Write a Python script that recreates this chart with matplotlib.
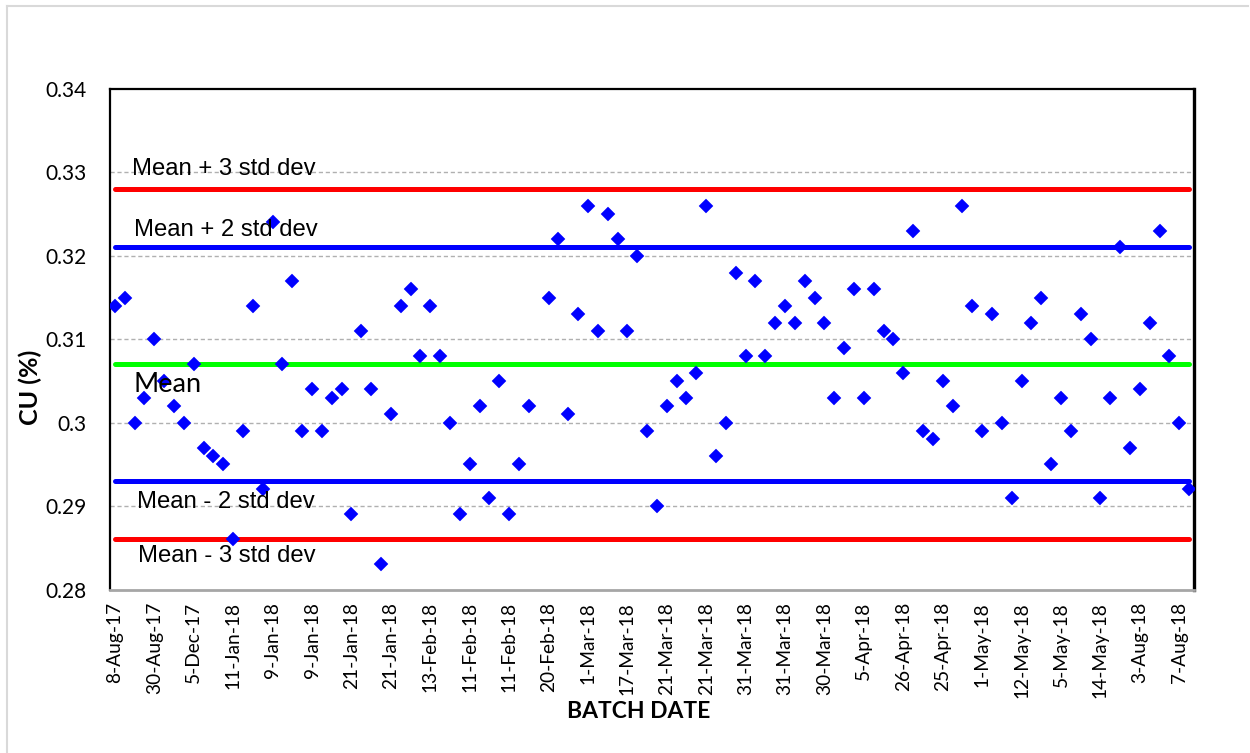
import numpy as np
import matplotlib
matplotlib.use("Agg")
import matplotlib.pyplot as plt
from matplotlib.lines import Line2D

# ---- data ----
cu_values = [
    0.314, 0.315, 0.300, 0.303, 0.310, 0.305, 0.302, 0.300, 0.307, 0.297,
    0.296, 0.295, 0.286, 0.299, 0.314, 0.292, 0.324, 0.307, 0.317, 0.299,
    0.304, 0.299, 0.303, 0.304, 0.289, 0.311, 0.304, 0.283, 0.301, 0.314,
    0.316, 0.308, 0.314, 0.308, 0.300, 0.289, 0.295, 0.302, 0.291, 0.305,
    0.289, 0.295, 0.302, np.nan, 0.315, 0.322, 0.301, 0.313, 0.326, 0.311,
    0.325, 0.322, 0.311, 0.320, 0.299, 0.290, 0.302, 0.305, 0.303, 0.306,
    0.326, 0.296, 0.300, 0.318, 0.308, 0.317, 0.308, 0.312, 0.314, 0.312,
    0.317, 0.315, 0.312, 0.303, 0.309, 0.316, 0.303, 0.316, 0.311, 0.310,
    0.306, 0.323, 0.299, 0.298, 0.305, 0.302, 0.326, 0.314, 0.299, 0.313,
    0.300, 0.291, 0.305, 0.312, 0.315, 0.295, 0.303, 0.299, 0.313, 0.310,
    0.291, 0.303, 0.321, 0.297, 0.304, 0.312, 0.323, 0.308, 0.300, 0.292,
]
tick_labels = [
    "8-Aug-17", "30-Aug-17", "5-Dec-17", "11-Jan-18", "9-Jan-18", "9-Jan-18",
    "21-Jan-18", "21-Jan-18", "13-Feb-18", "11-Feb-18", "11-Feb-18", "20-Feb-18",
    "1-Mar-18", "17-Mar-18", "21-Mar-18", "21-Mar-18", "31-Mar-18", "31-Mar-18",
    "30-Mar-18", "5-Apr-18", "26-Apr-18", "25-Apr-18", "1-May-18", "12-May-18",
    "5-May-18", "14-May-18", "3-Aug-18", "7-Aug-18",
]
tick_step = 4
mean_val = 0.307
plus2 = 0.321
plus3 = 0.328
minus2 = 0.293
minus3 = 0.286
limit_names = ["Mean + 3 std dev", "Mean + 2 std dev", "Mean", "Mean - 2 std dev", "Mean - 3 std dev"]

W, H = 1250, 753
fig = plt.figure(figsize=(W / 100, H / 100), dpi=100)
fig.patch.set_facecolor("white")

# outer chart border
fig.add_artist(Line2D([7 / W, 7 / W], [0, 1 - 6 / H], transform=fig.transFigure, color="#d9d9d9", lw=1.5))
fig.add_artist(Line2D([7 / W, 1248 / W], [1 - 6 / H, 1 - 6 / H], transform=fig.transFigure, color="#d9d9d9", lw=1.5))

left, right, top, bottom = 110, 1194, 89, 589.5
ax = fig.add_axes([left / W, 1 - bottom / H, (right - left) / W, (bottom - top) / H])

n = len(cu_values)
x = np.arange(n)

ax.set_ylim(0.28, 0.34)
ax.set_xlim(-0.5, n - 0.5)
yt = [0.28, 0.29, 0.30, 0.31, 0.32, 0.33, 0.34]
ax.set_yticks(yt)
ax.set_yticklabels(["0.28", "0.29", "0.3", "0.31", "0.32", "0.33", "0.34"])
for yv in yt[1:-1]:
    ax.axhline(yv, color="#b0b0b0", lw=1.0, ls=(0, (3, 2)), zorder=1)

line_kw = dict(lw=3.6, solid_capstyle="round", zorder=2)
ax.plot(x, np.full(n, plus3), color="#ff0000", **line_kw)
ax.plot(x, np.full(n, minus3), color="#ff0000", **line_kw)
ax.plot(x, np.full(n, plus2), color="#0000ff", **line_kw)
ax.plot(x, np.full(n, minus2), color="#0000ff", **line_kw)
ax.plot(x, np.full(n, mean_val), color="#00ff00", **line_kw)

ax.plot(x, cu_values, ls="none", marker="D", ms=7.5, color="#0000ff", mec="#0000ff", mew=0.3, zorder=3)

ax.set_xticks(x[::tick_step])
ax.set_xticklabels(tick_labels, rotation=90, fontfamily="Lato", fontsize=13.8, va="top", ha="center")
ax.tick_params(axis="x", length=0, pad=9)
ax.tick_params(axis="y", length=0, pad=17)
for lbl in ax.get_yticklabels():
    lbl.set_fontfamily("Lato")
    lbl.set_fontsize(15)

for s in ["top", "left"]:
    ax.spines[s].set_color("black")
    ax.spines[s].set_linewidth(1.6)
ax.spines["right"].set_color("black")
ax.spines["right"].set_linewidth(2.4)
ax.spines["bottom"].set_color("#a6a6a6")
ax.spines["bottom"].set_linewidth(2.0)

# annotations (pixel positions)
def ftext(px, py, s, **kw):
    fig.text(px / W, 1 - py / H, s, **kw)

ann = dict(family="Liberation Sans", fontsize=17.2, va="center", ha="left", color="black")
ftext(132, 169, limit_names[0], **ann)
ftext(134, 230, limit_names[1], **ann)
ftext(134, 384, limit_names[2], family="Lato", fontsize=19.5, va="center", ha="left")
ftext(137, 502, limit_names[3], **ann)
ftext(138, 556, limit_names[4], **ann)

ftext(638.5, 712, "BATCH DATE", family="Lato", fontweight="bold", fontsize=16.5, ha="center", va="center")
ftext(30, 387, "CU (%)", family="Lato", fontweight="bold", fontsize=18, ha="center", va="center", rotation=90)

fig.savefig("out.png", dpi=100, facecolor="white")
